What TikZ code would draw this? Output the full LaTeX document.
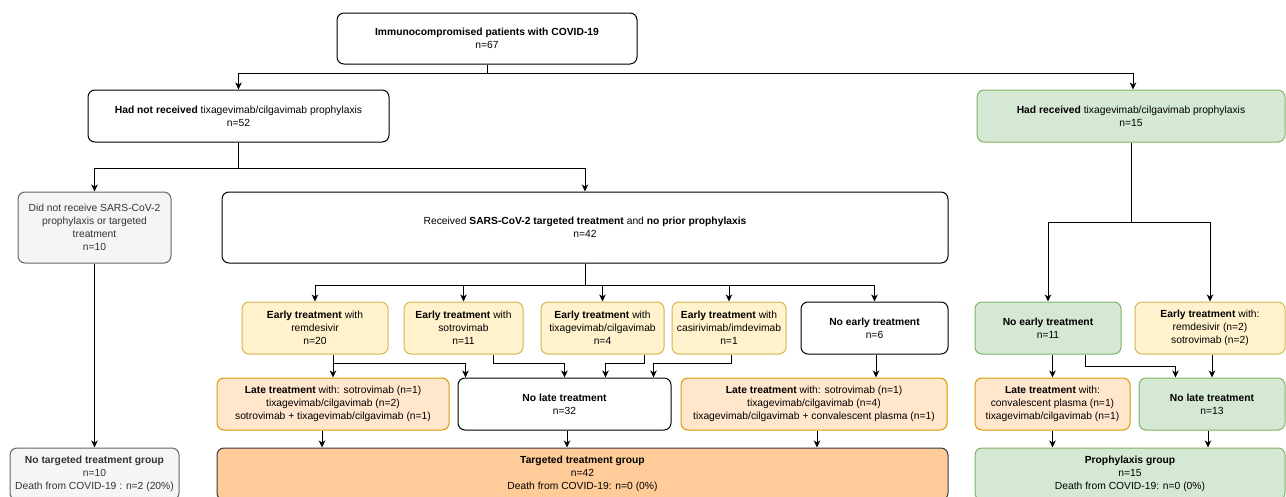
\documentclass[tikz,border=0pt]{standalone}
\usepackage{fontspec}
\setmainfont{Liberation Sans}
\usetikzlibrary{arrows.meta,calc}
\definecolor{yelF}{HTML}{FFF2CC}
\definecolor{yelD}{HTML}{D6B656}
\definecolor{oraF}{HTML}{FFE6CC}
\definecolor{oraD}{HTML}{D79B00}
\definecolor{greF}{HTML}{D5E8D4}
\definecolor{greD}{HTML}{82B366}
\definecolor{graF}{HTML}{F5F5F5}
\definecolor{graD}{HTML}{666666}
\definecolor{graT}{HTML}{333333}
\definecolor{peaF}{HTML}{FFCC99}
\definecolor{peaD}{HTML}{36393D}
\tikzset{
  box/.style={draw, line width=1pt, rounded corners=7pt, align=center, inner sep=2pt, fill=white},
  yelbox/.style={box, fill=yelF, draw=yelD},
  orabox/.style={box, fill=oraF, draw=oraD},
  grebox/.style={box, fill=greF, draw=greD},
  grabox/.style={box, fill=graF, draw=graD, text=graT},
  peabox/.style={box, fill=peaF, draw=peaD},
  arr/.style={draw, line width=1pt, -{Stealth[length=7pt,width=6.5pt,inset=2pt]}},
}
\begin{document}
\begin{tikzpicture}[x=1pt,y=-1pt,font=\fontsize{10.3}{13}\selectfont]
\useasboundingbox[fill=white] (0,0) rectangle (1286,496);

% row 0-1
\node[box, minimum width=300pt, minimum height=51pt] (top) at (487,38.5) {\textbf{Immunocompromised patients with COVID-19}\\n=67};
\node[box, minimum width=301pt, minimum height=52pt] (hnr) at (238.5,116) {\textbf{Had not received} tixagevimab/cilgavimab prophylaxis\\n=52};
\node[grebox, minimum width=308pt, minimum height=52pt] (hr) at (1131,116) {\textbf{Had received} tixagevimab/cilgavimab prophylaxis\\n=15};

% row 2
\node[grabox, minimum width=153pt, minimum height=71pt] (dnr) at (94.5,227.5) {Did not receive SARS-CoV-2\\prophylaxis or targeted\\treatment\\n=10};
\node[box, minimum width=726pt, minimum height=71pt] (rec) at (585,227.5) {Received \textbf{SARS-CoV-2 targeted treatment} and \textbf{no prior prophylaxis}\\n=42};

% row 3
\node[yelbox, minimum width=146pt, minimum height=52pt] (e1) at (315,328) {\textbf{Early treatment} with\\remdesivir\\n=20};
\node[yelbox, minimum width=119pt, minimum height=52pt] (e2) at (463.5,328) {\textbf{Early treatment} with\\sotrovimab\\n=11};
\node[yelbox, minimum width=123pt, minimum height=52pt] (e3) at (602.5,328) {\textbf{Early treatment} with\\tixagevimab/cilgavimab\\n=4};
\node[yelbox, minimum width=114pt, minimum height=52pt] (e4) at (729,328) {\textbf{Early treatment} with\\casirivimab/imdevimab\\n=1};
\node[box, minimum width=147pt, minimum height=52pt] (ne) at (874.5,328) {\textbf{No early treatment}\\n=6};
\node[grebox, minimum width=146pt, minimum height=52pt] (pne) at (1048,328) {\textbf{No early treatment}\\n=11};
\node[yelbox, minimum width=150pt, minimum height=52pt] (pe) at (1210,328) {\textbf{Early treatment} with:\\remdesivir (n=2)\\sotrovimab (n=2)};

% row 4
\node[orabox, minimum width=232pt, minimum height=52pt] (l1) at (333,404) {\textbf{Late treatment} with: sotrovimab (n=1)\\tixagevimab/cilgavimab (n=2)\\sotrovimab + tixagevimab/cilgavimab (n=1)};
\node[box, minimum width=213pt, minimum height=52pt] (nl) at (564.5,404) {\textbf{No late treatment}\\n=32};
\node[orabox, minimum width=266pt, minimum height=52pt] (l2) at (814,404) {\textbf{Late treatment} with: sotrovimab (n=1)\\tixagevimab/cilgavimab (n=4)\\tixagevimab/cilgavimab + convalescent plasma (n=1)};
\node[orabox, minimum width=155pt, minimum height=52pt] (pl) at (1052.5,404) {\textbf{Late treatment} with:\\convalescent plasma (n=1)\\tixagevimab/cilgavimab (n=1)};
\node[grebox, minimum width=146pt, minimum height=52pt] (pnl) at (1212,404) {\textbf{No late treatment}\\n=13};

% row 5
\node[grabox, minimum width=169pt, minimum height=52pt] (g1) at (94.5,474) {\textbf{No targeted treatment group}\\n=10\\Death from COVID-19 : n=2 (20\%)};
\node[peabox, minimum width=731pt, minimum height=52pt] (g2) at (582.5,474) {\textbf{Targeted treatment group}\\n=42\\Death from COVID-19: n=0 (0\%)};
\node[grebox, minimum width=310pt, minimum height=52pt] (g3) at (1130,474) {\textbf{Prophylaxis group}\\n=15\\Death from COVID-19: n=0 (0\%)};

% connectors top
\draw[arr] (top.south) -- ++(0,9) -| (hnr.north);
\draw[arr] (top.south) -- ++(0,9) -| ([xshift=2pt]hr.north);
\draw[arr] (hnr.south) -- ++(0,26) -| (dnr.north);
\draw[arr] (hnr.south) -- ++(0,26) -| (rec.north);
\foreach \n in {e1,e2,e3,e4,ne}{
  \draw[arr] (rec.south) -- ++(0,22) -| (\n.north);
}
\draw[arr] (hr.south) -- ++(0,80) -| (pne.north);
\draw[arr] (hr.south) -- ++(0,80) -| (pe.north);

% row 3 -> row 4
\coordinate (lvl) at (0,363);
\coordinate (nlA) at ([xshift=8pt]nl.north west);
\coordinate (nlB) at ([xshift=148pt]nl.north west);
\coordinate (nlC) at ([xshift=196pt]nl.north west);
\draw[arr] (e1.south -| l1.north) -- (l1.north);
\draw[arr] (e1.south -| l1.north) |- (lvl -| nlA) -- (nlA);
\draw[arr] ([xshift=29.5pt]e2.south) |- (lvl -| nl.north) -- (nl.north);
\draw[arr] ([xshift=41.5pt]e3.south) |- (lvl -| nlB) -- (nlB);
\draw[arr] ([xshift=2pt]e4.south) |- (lvl -| nlC) -- (nlC);
\draw[arr] ([xshift=1.5pt]ne.south) -- ([xshift=1.5pt]ne.south |- l2.north);

\coordinate (lvlp) at (0,366);
\coordinate (pnlA) at ([xshift=37pt]pnl.north west);
\draw[arr] (pne.south -| pl.north) -- (pl.north);
\draw[arr] ([xshift=37pt]pne.south) |- (lvlp -| pnlA) -- (pnlA);
\draw[arr] (pe.south -| pnl.north) -- (pnl.north);

% row 4 -> row 5
\draw[arr] (dnr.south) -- (g1.north);
\draw[arr] ([xshift=-11pt]l1.south) -- ([xshift=-11pt]l1.south |- g2.north);
\draw[arr] ([xshift=2.5pt]nl.south) -- ([xshift=2.5pt]nl.south |- g2.north);
\draw[arr] ([xshift=3pt]l2.south) -- ([xshift=3pt]l2.south |- g2.north);
\draw[arr] (pl.south) -- (pl.south |- g3.north);
\draw[arr] ([xshift=-4pt]pnl.south) -- ([xshift=-4pt]pnl.south |- g3.north);
\end{tikzpicture}
\end{document}
